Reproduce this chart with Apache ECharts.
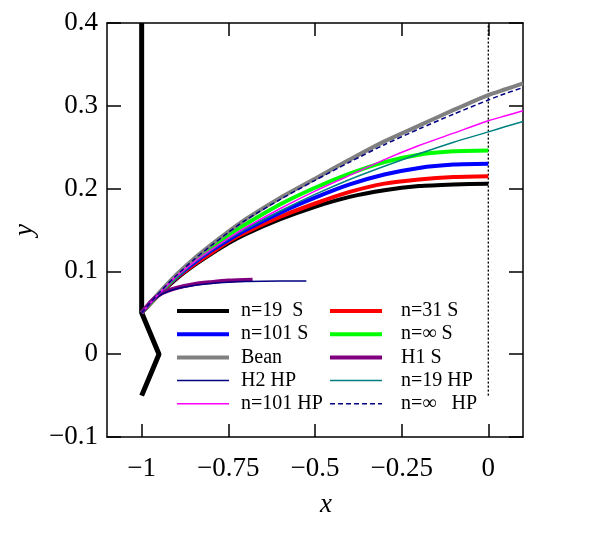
<!DOCTYPE html>
<html>
<head>
<meta charset="utf-8">
<script src="https://cdn.jsdelivr.net/npm/echarts@6/dist/echarts.min.js"></script>
<style>html,body{margin:0;padding:0;background:#fff}#c{width:592px;height:534px}</style>
</head>
<body>
<div id="c"></div>
<script>
// ---- data ----
var xS  = [-1, -0.95, -0.9, -0.85, -0.8, -0.75, -0.7, -0.6, -0.5, -0.4, -0.3, -0.2, -0.1, 0];
var xHP = [-1, -0.95, -0.9, -0.85, -0.8, -0.75, -0.7, -0.6, -0.5, -0.4, -0.3, -0.2, -0.1, 0, 0.05, 0.1];

var yN19S  = [0.05, 0.072, 0.091, 0.107, 0.121, 0.134, 0.145, 0.163, 0.178, 0.190, 0.198, 0.203, 0.205, 0.206];
var yN31S  = [0.05, 0.072, 0.092, 0.108, 0.122, 0.136, 0.147, 0.166, 0.182, 0.196, 0.206, 0.211, 0.214, 0.215];
var yN101S = [0.05, 0.073, 0.093, 0.110, 0.125, 0.138, 0.150, 0.171, 0.189, 0.205, 0.217, 0.225, 0.229, 0.230];
var yNinfS = [0.05, 0.073, 0.094, 0.113, 0.129, 0.144, 0.157, 0.181, 0.201, 0.218, 0.232, 0.241, 0.245, 0.246];

var yBean    = [0.05, 0.074, 0.096, 0.115, 0.132, 0.148, 0.163, 0.189, 0.212, 0.235, 0.257, 0.276, 0.295, 0.313, 0.320, 0.327];
var yN19HP   = [0.05, 0.073, 0.093, 0.110, 0.125, 0.139, 0.151, 0.173, 0.193, 0.211, 0.227, 0.242, 0.256, 0.2685, 0.275, 0.281];
var yN101HP  = [0.05, 0.073, 0.094, 0.111, 0.126, 0.140, 0.153, 0.176, 0.197, 0.216, 0.235, 0.252, 0.267, 0.282, 0.288, 0.294];
var yNinfHP  = [0.05, 0.074, 0.095, 0.114, 0.131, 0.147, 0.162, 0.187, 0.210, 0.232, 0.253, 0.272, 0.290, 0.307, 0.315, 0.322];

var xH1 = [-1, -0.97, -0.94, -0.9, -0.85, -0.8, -0.75, -0.68];
var yH1 = [0.05, 0.065, 0.074, 0.080, 0.0845, 0.087, 0.089, 0.090];
var xH2 = [-1, -0.97, -0.94, -0.9, -0.85, -0.8, -0.75, -0.7, -0.6, -0.525];
var yH2 = [0.05, 0.064, 0.073, 0.079, 0.083, 0.0855, 0.087, 0.0878, 0.0883, 0.0883];

var xGeom = [-1, -1, -0.95, -1];
var yGeom = [0.4, 0.05, 0, -0.05];

var xDot = [0, 0];
var yDot = [-0.05, 0.4];

var xTicks = [-1, -0.75, -0.5, -0.25, 0];

var legendLeft  = ['n=19  S', 'n=101 S', 'Bean', 'H2 HP', 'n=101 HP'];
var legendRight = ['n=31 S', 'n=\u221e S', 'H1 S', 'n=19 HP', 'n=\u221e   HP'];

function pairs(xs, ys) { return xs.map(function (x, i) { return [x, ys[i]]; }); }
function fmt(v) { var s = String(+(+v).toFixed(3)); return s.replace('-', '\u2212'); }

var FONT = 'Liberation Serif';

function lineSeries(name, xs, ys, color, width, type) {
  return {
    name: name, type: 'line', data: pairs(xs, ys),
    symbol: 'none', smooth: 0.25,
    lineStyle: { color: color, width: width, type: type || 'solid' },
    itemStyle: { color: color },
    emphasis: { disabled: true }, animation: false
  };
}

var series = [
  lineSeries('geom', xGeom, yGeom, '#000', 5),
  lineSeries('dot', xDot, yDot, '#000', 1.4, [2, 2]),
  lineSeries('n=19  S', xS, yN19S, '#000000', 4),
  lineSeries('n=31 S', xS, yN31S, '#ff0000', 4),
  lineSeries('n=101 S', xS, yN101S, '#0000ff', 4),
  lineSeries('n=\u221e S', xS, yNinfS, '#00ff00', 4),
  lineSeries('Bean', xHP, yBean, '#808080', 4),
  lineSeries('H1 S', xH1, yH1, '#800080', 4),
  lineSeries('H2 HP', xH2, yH2, '#000080', 1.5),
  lineSeries('n=19 HP', xHP, yN19HP, '#008080', 1.5),
  lineSeries('n=101 HP', xHP, yN101HP, '#ff00ff', 1.5),
  lineSeries('n=\u221e   HP', xHP, yNinfHP, '#000080', 1.5, [5, 3])
];
series[0].smooth = false;
series[1].smooth = false;

function legendCfg(left, names, pad) {
  return {
    orient: 'vertical', left: left, top: 301, padding: 0,
    itemWidth: 52, itemHeight: 14, itemGap: 3.2,
    data: names, selectedMode: false,
    itemStyle: { opacity: 0 },
    lineStyle: { width: 'inherit', type: 'inherit' },
    textStyle: { fontFamily: FONT, fontSize: 20, color: '#000', padding: [0, 0, 0, pad], lineHeight: 20 }
  };
}

var axisLine = { show: true, onZero: false, lineStyle: { color: '#000', width: 1.5 } };

var option = {
  backgroundColor: '#fff',
  animation: false,
  grid: { left: 107, top: 23, right: 69, bottom: 97, containLabel: false },
  legend: [legendCfg(175, legendLeft, 7), legendCfg(328, legendRight, 14)],
  xAxis: [{
    type: 'value', min: -1.1, max: 0.1, position: 'bottom',
    axisLine: axisLine,
    axisTick: { inside: true, length: 13, customValues: xTicks, lineStyle: { color: '#000', width: 1.5 } },
    axisLabel: { customValues: xTicks, formatter: fmt, margin: 18, fontFamily: FONT, fontSize: 27, color: '#000' },
    splitLine: { show: false },
    name: 'x', nameLocation: 'middle', nameGap: 54,
    nameTextStyle: { fontFamily: FONT, fontSize: 27, fontStyle: 'italic', color: '#000', padding: [0, 0, 0, 22] }
  }, {
    type: 'value', min: -1.1, max: 0.1, position: 'top',
    axisLine: axisLine,
    axisTick: { inside: true, length: 13, customValues: xTicks, lineStyle: { color: '#000', width: 1.5 } },
    axisLabel: { show: false }, splitLine: { show: false }
  }],
  yAxis: [{
    type: 'value', min: -0.1, max: 0.4, interval: 0.1, position: 'left',
    axisLine: axisLine,
    axisTick: { inside: true, length: 14, lineStyle: { color: '#000', width: 1.5 } },
    axisLabel: { formatter: fmt, margin: 9, fontFamily: FONT, fontSize: 27, color: '#000' },
    splitLine: { show: false },
    name: 'y', nameLocation: 'middle', nameGap: 58, nameRotate: 90,
    nameTextStyle: { fontFamily: FONT, fontSize: 27, fontStyle: 'italic', color: '#000' }
  }, {
    type: 'value', min: -0.1, max: 0.4, interval: 0.1, position: 'right',
    axisLine: axisLine,
    axisTick: { inside: true, length: 14, lineStyle: { color: '#000', width: 1.5 } },
    axisLabel: { show: false }, splitLine: { show: false }
  }],
  series: series
};

var chart = echarts.init(document.getElementById('c'), null, { renderer: 'canvas' });
chart.setOption(option);
</script>
</body>
</html>
